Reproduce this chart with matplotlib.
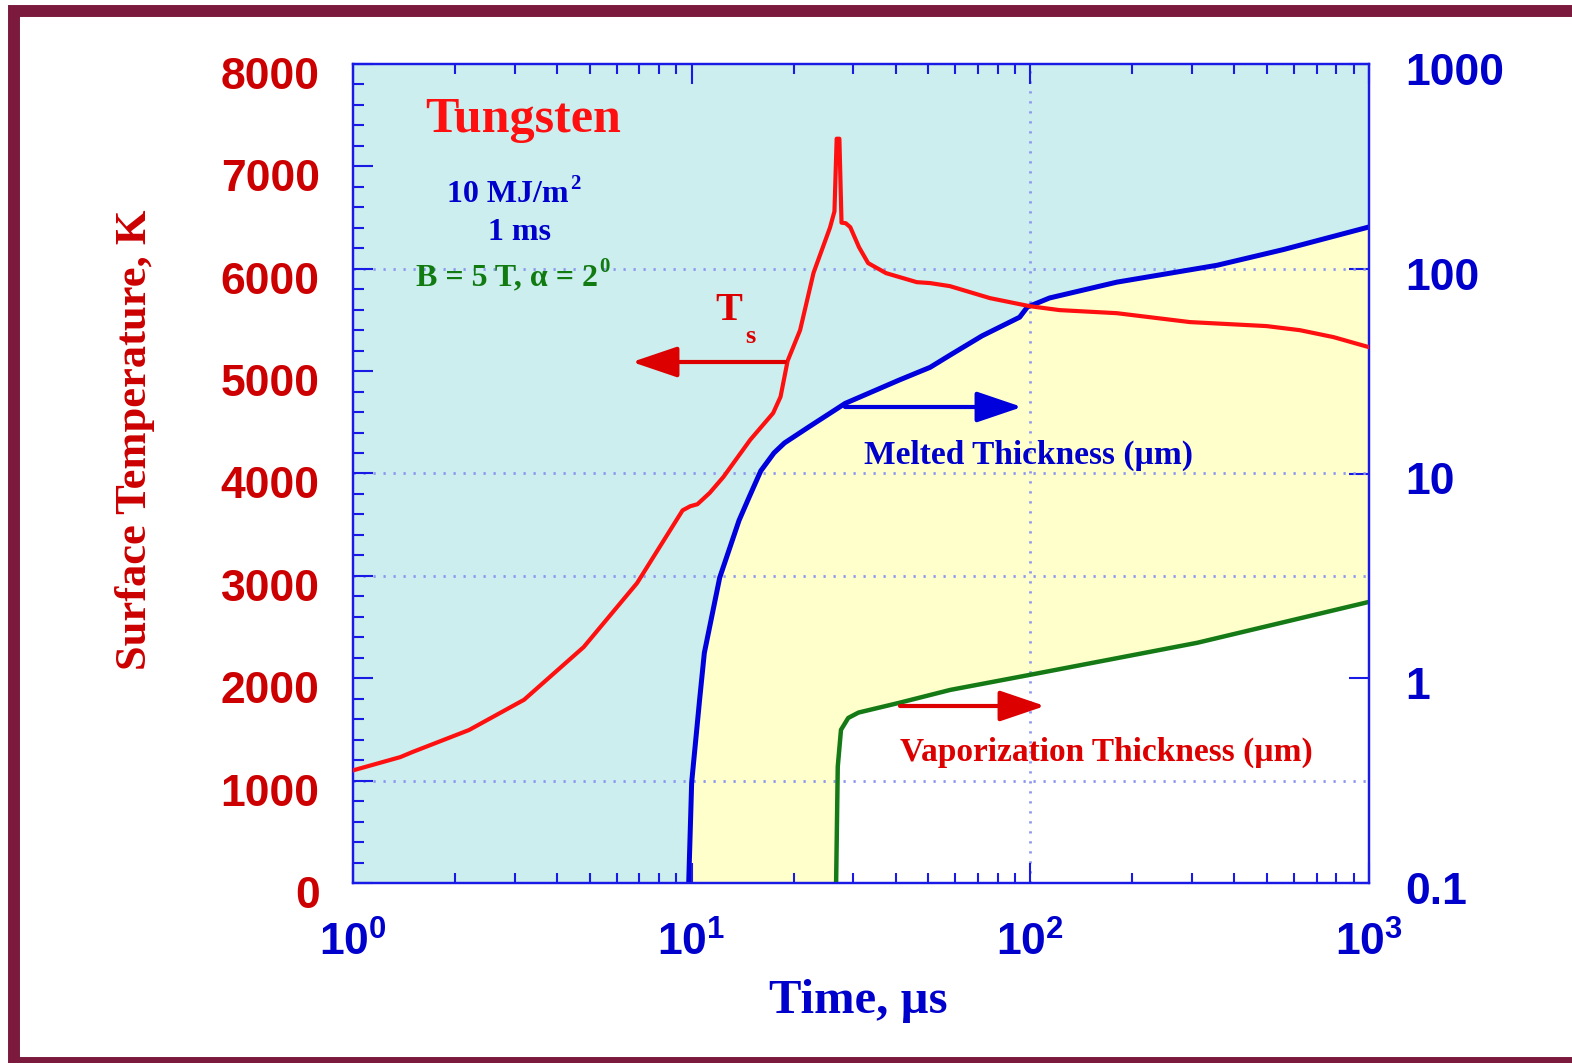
import matplotlib
matplotlib.use("Agg")
import matplotlib.pyplot as plt
from matplotlib.patches import Rectangle, FancyArrowPatch
from matplotlib.transforms import ScaledTranslation
from matplotlib.ticker import MultipleLocator, LogLocator, NullFormatter, NullLocator

# surface temperature (left axis, K)
t_temp = [1.0, 1.38, 1.5, 2.2, 3.2, 4.8, 6.9, 9.4, 9.9, 10.4, 11.3, 12.4, 14.9, 17.4, 18.3,
          19.2, 20.9, 22.9, 25.6, 26.4, 26.8, 27.3, 27.7, 28.5, 29.4, 31.2, 33.2, 37.5,
          46.2, 50.6, 57.9, 76.0, 99.3, 122.0, 180.0, 296.0, 498.0, 625.0, 786.0, 1000.0]
temp = [1100, 1230, 1280, 1494, 1790, 2305, 2930, 3640, 3680, 3700, 3810, 3965, 4330, 4590, 4750,
        5100, 5400, 5960, 6400, 6560, 7270, 7270, 6450, 6445, 6406, 6210, 6055, 5957,
        5869, 5860, 5830, 5713, 5635, 5596, 5566, 5479, 5440, 5400, 5332, 5234]

# melted thickness (right axis, um)
t_melt = [9.8, 10.0, 10.55, 10.9, 12.1, 13.8, 14.8, 16.0, 17.5, 18.8, 22.2, 28.4, 41.0,
          50.6, 58.0, 72.0, 93.0, 98.0, 114.0, 180.0, 356.0, 558.0, 1000.0]
melt = [0.1, 0.31, 0.78, 1.33, 3.1, 5.9, 7.7, 10.3, 12.6, 14.1, 16.9, 22.0, 28.6,
        33.0, 37.9, 47.0, 58.0, 65.0, 72.0, 86.0, 104.0, 124.0, 160.0]

# vaporization thickness (right axis, um)
t_vap = [26.7, 27.0, 27.6, 29.0, 31.1, 40.8, 58.0, 100.0, 311.0, 1000.0]
vap = [0.1, 0.37, 0.56, 0.64, 0.68, 0.757, 0.877, 1.04, 1.49, 2.36]

x_ticks = [1, 10, 100, 1000]
x_labels = [r"$10^{0}$", r"$10^{1}$", r"$10^{2}$", r"$10^{3}$"]
right_ticks = [0.1, 1, 10, 100, 1000]
right_labels = ["0.1", "1", "10", "100", "1000"]
grid_temps = [1000, 3000, 4000, 6000]

plt.rcParams["mathtext.fontset"] = "custom"
plt.rcParams["mathtext.rm"] = "Liberation Sans:bold"
plt.rcParams["mathtext.bf"] = "Liberation Sans:bold"
plt.rcParams["mathtext.it"] = "Liberation Sans:bold"

W, H = 1572, 1063
SERIF = "Liberation Serif"
SANS = "Liberation Sans"
BLUE = "#0000CC"
DRED = "#CC0000"
SPINE = "#1A1AE6"


def px(x, y):
    return (x / W, 1 - y / H)


fig = plt.figure(figsize=(W / 100, H / 100), dpi=100)
fig.patch.set_facecolor("white")

ax = fig.add_axes([353 / W, 1 - 883 / H, (1369 - 353) / W, (883 - 64) / H])
ax2 = ax.twinx()

ax.set_zorder(2)
ax.patch.set_visible(False)
ax2.set_zorder(1)
ax2.patch.set_visible(True)
ax2.patch.set_facecolor("#CCEEEE")

ax.set_xscale("log")
ax.set_xlim(1, 1000)
ax.set_ylim(0, 8000)
ax2.set_yscale("log")
ax2.set_ylim(0.1, 1000)

# fills + thickness curves
ax2.fill_between(t_melt, melt, 0.1, color="#FFFFCC", lw=0, zorder=1)
ax2.fill_between(t_vap, vap, 0.1, color="white", lw=0, zorder=1.5)

for T in grid_temps:
    ax2.plot([1, 1000], [T, T], transform=ax.transData, color="#8C96EE",
             lw=2, linestyle=(0, (0.8, 2.8)), zorder=2)
ax2.axvline(100, color="#8C96EE", lw=2, linestyle=(0, (0.8, 2.8)), zorder=2)

ax2.plot(t_melt, melt, color="#0000DD", lw=3.6, zorder=3)
ax2.plot(t_vap, vap, color="#157A15", lw=3.2, zorder=3)
ax2.set_xlim(1, 1000)
ax2.set_ylim(0.1, 1000)

ax.plot(t_temp, temp, color="#FF1010", lw=3.0, zorder=3)

# ticks
ax.set_xticks(x_ticks, labels=x_labels)
ax.xaxis.set_minor_locator(LogLocator(base=10, subs=range(2, 10)))
ax.xaxis.set_minor_formatter(NullFormatter())
ax.yaxis.set_major_locator(MultipleLocator(1000))
ax.yaxis.set_minor_locator(MultipleLocator(200))

ax.tick_params(axis="x", which="both", direction="in", top=True, bottom=True,
               color=SPINE, width=1.5, labelcolor=BLUE, labelsize=32, pad=28)
ax.tick_params(axis="x", which="major", length=14.5)
ax.tick_params(axis="x", which="minor", length=7.5)
ax.tick_params(axis="y", which="both", direction="in", left=True, right=False,
               color=SPINE, width=1.5, labelcolor=DRED, labelsize=32, pad=24)
ax.tick_params(axis="y", which="major", length=14.5)
ax.tick_params(axis="y", which="minor", length=8)

ax2.set_yticks(right_ticks, labels=right_labels)
ax2.yaxis.set_minor_locator(NullLocator())
ax2.tick_params(axis="y", which="major", direction="in", length=14.5, width=1.5,
                color=SPINE, labelcolor=BLUE, labelsize=32, pad=26)

# labels in the reference sit a little below their ticks
for a, dy in ((ax, 9), (ax2, 5)):
    for lab in a.get_yticklabels():
        lab.set_fontfamily(SANS)
        lab.set_fontweight("bold")
        lab.set_transform(lab.get_transform()
                          + ScaledTranslation(0, -dy / 100, fig.dpi_scale_trans))

for a in (ax, ax2):
    for s in a.spines.values():
        s.set_color(SPINE)
        s.set_linewidth(1.6)

# axis labels
fig.text(*px(858, 1001), "Time, µs", color=BLUE, fontsize=35, family=SERIF,
         fontweight="bold", ha="center", va="center")
fig.text(*px(135, 440), "Surface Temperature, K", color=DRED, fontsize=32,
         family=SERIF, fontweight="bold", rotation=90, ha="center", va="center")

# annotations
fig.text(*px(523, 120), "Tungsten", color="#FF1010", fontsize=36, family=SERIF,
         fontweight="bold", ha="center", va="center")
t1 = fig.text(*px(508, 195), "10 MJ/m", color=BLUE, fontsize=23, family=SERIF,
              fontweight="bold", ha="center", va="center")
fig.text(*px(519, 232), "1 ms", color=BLUE, fontsize=23, family=SERIF,
         fontweight="bold", ha="center", va="center")
t2 = fig.text(*px(507, 278), "B = 5 T, α = 2", color="#117A11", fontsize=23,
              family=SERIF, fontweight="bold", ha="center", va="center")
for tt, sup, col in ((t1, "2", BLUE), (t2, "0", "#117A11")):
    ax.annotate(sup, xy=(1.0, 1.0), xycoords=tt, xytext=(1, 5),
                textcoords="offset points", ha="left", va="top", color=col,
                fontsize=15, family=SERIF, fontweight="bold")

fig.text(*px(729, 310), "T", color="#DD0000", fontsize=29, family=SERIF,
         fontweight="bold", ha="center", va="center")
fig.text(*px(750, 336), "s", color="#DD0000", fontsize=19, family=SERIF,
         fontweight="bold", ha="center", va="center")

fig.text(*px(1028, 455), "Melted Thickness (µm)", color=BLUE, fontsize=24,
         family=SERIF, fontweight="bold", ha="center", va="center")
fig.text(*px(1106, 752), "Vaporization Thickness (µm)", color="#DD0000", fontsize=24,
         family=SERIF, fontweight="bold", ha="center", va="center")

arrows = [((785, 362), (632, 362), "#DD0000"),
          ((845, 407), (1022, 407), "#0000DD"),
          ((900, 706), (1045, 706), "#DD0000")]
for tail, tip, col in arrows:
    fig.patches.append(FancyArrowPatch(
        px(*tail), px(*tip), transform=fig.transFigure,
        arrowstyle="-|>,head_length=2.8,head_width=0.95", mutation_scale=10,
        color=col, lw=3, shrinkA=0, shrinkB=0, zorder=5))

# outer maroon frame
fig.patches.append(Rectangle(px(14, 1063), (1574 - 14) / W, (1063 - 11) / H,
                             transform=fig.transFigure, fill=False,
                             edgecolor="#7B1A3C", lw=8.6, clip_on=False, zorder=10))

fig.savefig("out.png", dpi=100)
